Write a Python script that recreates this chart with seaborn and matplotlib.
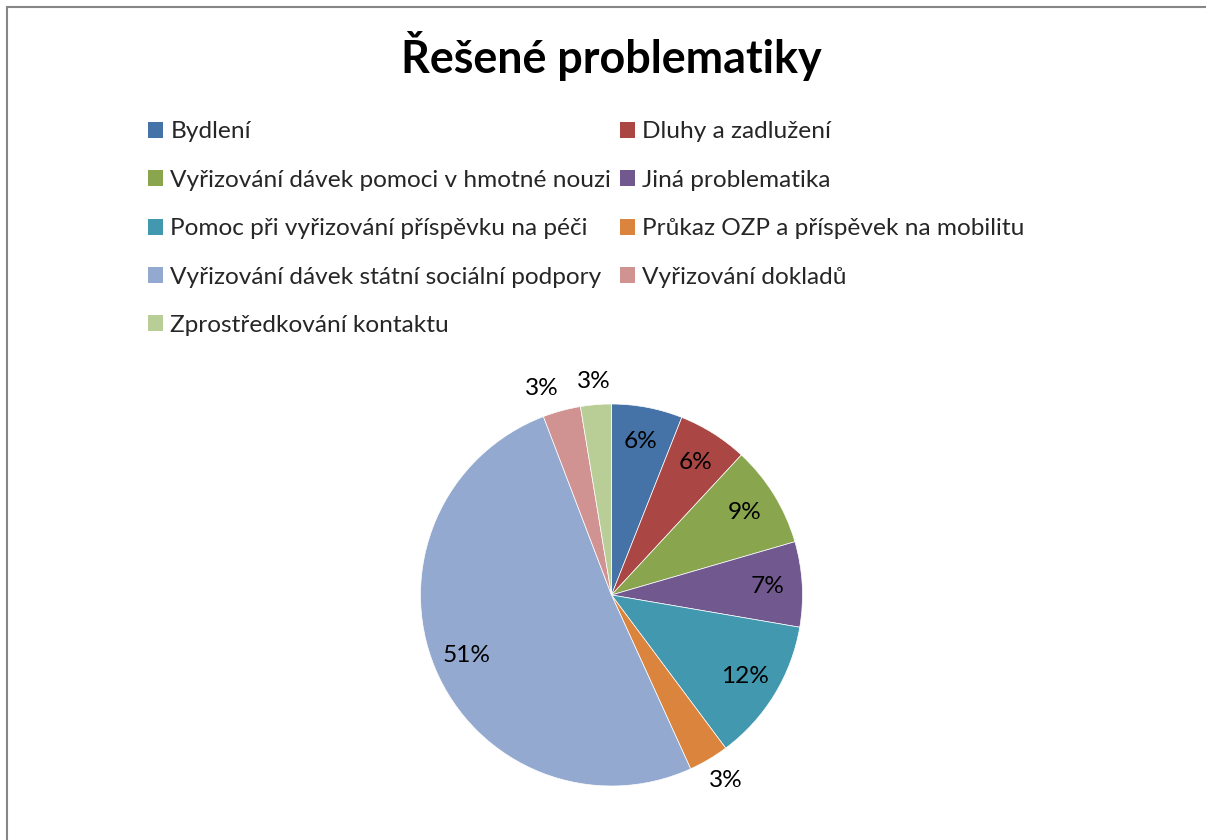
import matplotlib.pyplot as plt
import numpy as np
import seaborn as sns
from matplotlib.patches import Patch, Rectangle

# data (shares in %)
categories = [
    'Bydlení',
    'Dluhy a zadlužení',
    'Vyřizování dávek pomoci v hmotné nouzi',
    'Jiná problematika',
    'Pomoc při vyřizování příspěvku na péči',
    'Průkaz OZP a příspěvek na mobilitu',
    'Vyřizování dávek státní sociální podpory',
    'Vyřizování dokladů',
    'Zprostředkování kontaktu',
]
shares = [6.0, 5.9, 8.6, 7.2, 12.1, 3.4, 51.0, 3.2, 2.6]
title = 'Řešené problematiky'

colors = ['#4572A7', '#AA4643', '#89A54E', '#71588F', '#4198AF',
          '#DB843D', '#93A9CF', '#D19392', '#B9CD96']

sns.set_theme(style='white')
plt.rcParams['font.family'] = ['Lato', 'DejaVu Sans']
palette = sns.color_palette(colors)

W, H = 1206, 840
fs = 17.6
fig = plt.figure(figsize=(W / 100, H / 100), dpi=100)
fig.patch.set_facecolor('white')

# pie axes: centre (611.5, 595) px, radius 191 px
R = 191
cx, cy = 611.5, 595
lim = 1.3
size = 2 * lim * R
ax = fig.add_axes([(cx - size / 2) / W, (H - cy - size / 2) / H, size / W, size / H])

wedges, texts, autotexts = ax.pie(
    shares, colors=palette, startangle=90, counterclock=False, radius=1,
    autopct=lambda p: f'{p:.0f}%', pctdistance=0.82,
    wedgeprops=dict(edgecolor='white', linewidth=0.5),
    textprops=dict(fontsize=fs, color='black'))

# small slices get their labels outside (the two at the top pushed apart a bit)
nudge = {5: 1.0, 7: 3.5, 8: 0.0}
for i, (w, t, v) in enumerate(zip(wedges, autotexts, shares)):
    if v < 5:
        mid = np.deg2rad((w.theta1 + w.theta2) / 2 + nudge.get(i, 0))
        r = 1.12 if i == 8 else 1.14
        t.set_position((r * np.cos(mid), r * np.sin(mid)))

ax.set_xlim(-lim, lim)
ax.set_ylim(-lim, lim)
ax.set_aspect('equal')
ax.axis('off')

fig.text(cx / W, 1 - 73.3 / H, title, ha='center', va='baseline',
         fontsize=32.3, fontweight='bold', color='black')

# legend: row-major order in two columns
handles = [Patch(facecolor=palette[i], edgecolor='none') for i in range(len(categories))]
order = [0, 2, 4, 6, 8, 1, 3, 5, 7]
fig.legend([handles[i] for i in order], [categories[i] for i in order],
           ncol=2, loc='upper left', bbox_to_anchor=(148 / W, 1 - 121.5 / H),
           bbox_transform=fig.transFigure, frameon=False, fontsize=fs,
           borderpad=0, borderaxespad=0, handlelength=0.62, handleheight=0.62,
           handletextpad=0.3, labelspacing=1.12, columnspacing=0.35)

# grey chart-area frame
fig.add_artist(Rectangle((7 / W, -0.05), 1.2, 1.05 - 7 / H, transform=fig.transFigure,
                         fill=False, edgecolor='#868686', linewidth=1.5))

fig.savefig('out.png', dpi=100)
